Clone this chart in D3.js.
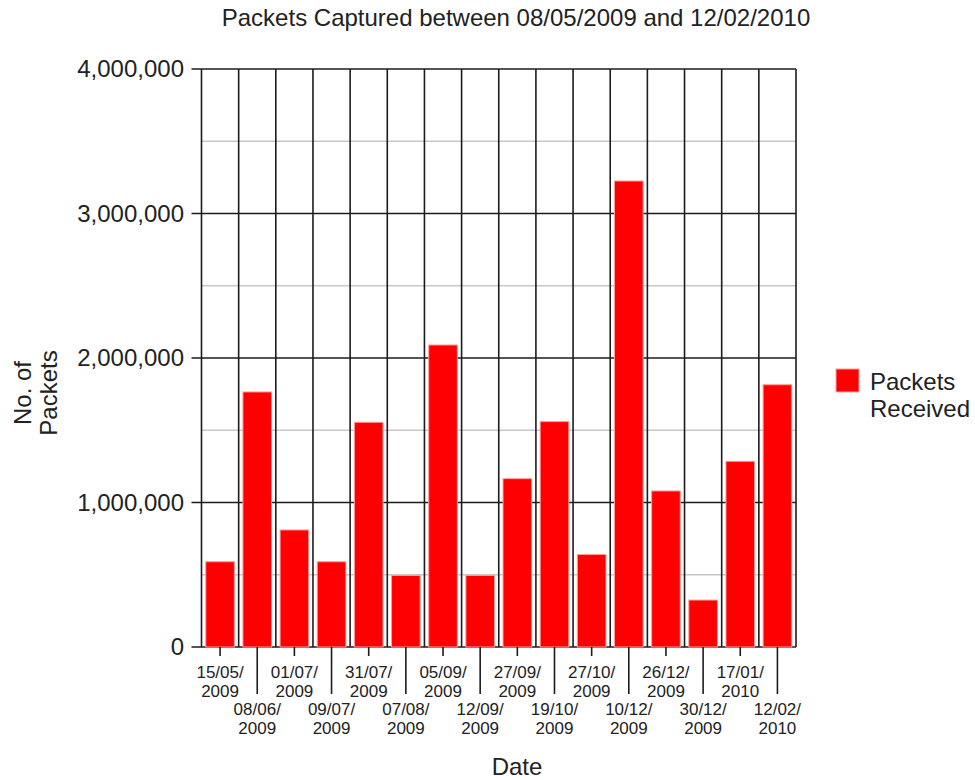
<!DOCTYPE html>
<html>
<head>
<meta charset="utf-8">
<script src="https://cdn.jsdelivr.net/npm/d3@7"></script>
<style>
  html, body { margin: 0; padding: 0; background: #fff; }
  svg text { font-family: "Liberation Sans", Arial, sans-serif; fill: #222; }
</style>
</head>
<body>
<svg id="chart" width="975" height="780"></svg>
<script>
// Capture dates (day/month/year) and packet totals for each capture
const dates = [
  "15/05/2009", "08/06/2009", "01/07/2009", "09/07/2009",
  "31/07/2009", "07/08/2009", "05/09/2009", "12/09/2009",
  "27/09/2009", "19/10/2009", "27/10/2009", "10/12/2009",
  "26/12/2009", "30/12/2009", "17/01/2010", "12/02/2010"
];
const packets = [
  590000, 1765000, 810000, 590000,
  1555000, 495000, 2090000, 495000,
  1165000, 1560000, 640000, 3225000,
  1080000, 325000, 1285000, 1815000
];
const majorTicks = [0, 1000000, 2000000, 3000000, 4000000];
const minorTicks = [500000, 1500000, 2500000, 3500000];
const seriesName = ["Packets", "Received"];
const titleText = "Packets Captured between 08/05/2009 and 12/02/2010";
const yTitle = ["No. of", "Packets"];
const xTitle = "Date";

const svg = d3.select("#chart");
const plotLeft = 201.5, plotRight = 796, plotTop = 69, plotBottom = 647;
const lineColor = "#1c1c1c";
const bigFont = 24;

const x = d3.scaleBand()
  .domain(dates)
  .range([plotLeft, plotRight])
  .paddingInner(0.23)
  .paddingOuter(0.115);

const y = d3.scaleLinear()
  .domain([0, 4000000])
  .range([plotBottom, plotTop]);

const bw = x.bandwidth();
const gap = (x.step() - bw) / 2;

// minor horizontal grid (grey)
svg.append("g").selectAll("line").data(minorTicks).join("line")
  .attr("x1", plotLeft).attr("x2", plotRight)
  .attr("y1", d => y(d)).attr("y2", d => y(d))
  .attr("stroke", "#c8c8c8").attr("stroke-width", 1.5);

// major horizontal grid with tick stubs left of the axis
svg.append("g").selectAll("line").data(majorTicks).join("line")
  .attr("x1", plotLeft - 10).attr("x2", plotRight)
  .attr("y1", d => y(d)).attr("y2", d => y(d))
  .attr("stroke", lineColor).attr("stroke-width", 1.6);

// vertical separators at category boundaries
svg.append("g").selectAll("line").data(dates).join("line")
  .attr("x1", d => x(d) + bw + gap).attr("x2", d => x(d) + bw + gap)
  .attr("y1", plotTop).attr("y2", plotBottom)
  .attr("stroke", lineColor).attr("stroke-width", 1.6);

// left axis line
svg.append("line")
  .attr("x1", plotLeft).attr("x2", plotLeft)
  .attr("y1", plotTop).attr("y2", plotBottom)
  .attr("stroke", lineColor).attr("stroke-width", 1.6);

// bars
svg.append("g").selectAll("rect").data(dates).join("rect")
  .attr("x", d => x(d))
  .attr("width", bw)
  .attr("y", (d, i) => y(packets[i]))
  .attr("height", (d, i) => plotBottom - y(packets[i]))
  .attr("fill", "#ff0000")
  .attr("stroke", "#ff9c9c")
  .attr("stroke-width", 1);

// y tick labels
const fmt = d3.format(",");
svg.append("g").selectAll("text").data(majorTicks).join("text")
  .attr("x", 184)
  .attr("y", d => y(d))
  .attr("dy", "0.35em")
  .attr("text-anchor", "end")
  .attr("font-size", bigFont)
  .text(d => fmt(d));

// x ticks: staggered two-row labels
const xt = svg.append("g");
dates.forEach((d, i) => {
  const cx = x(d) + bw / 2;
  const low = i % 2 === 1;
  xt.append("line")
    .attr("x1", cx).attr("x2", cx)
    .attr("y1", plotBottom).attr("y2", low ? 694 : 656)
    .attr("stroke", lineColor).attr("stroke-width", 1.6);
  const parts = d.split("/");
  const base = low ? 715 : 678;
  const t = xt.append("text")
    .attr("text-anchor", "middle")
    .attr("font-size", 17);
  t.append("tspan").attr("x", cx).attr("y", base).text(parts[0] + "/" + parts[1] + "/");
  t.append("tspan").attr("x", cx).attr("y", base + 18.5).text(parts[2]);
});

// title
svg.append("text")
  .attr("x", 516).attr("y", 26)
  .attr("text-anchor", "middle")
  .attr("font-size", bigFont)
  .text(titleText);

// x axis title
svg.append("text")
  .attr("x", 517).attr("y", 775)
  .attr("text-anchor", "middle")
  .attr("font-size", bigFont)
  .text(xTitle);

// y axis title (rotated, two lines)
const yt = svg.append("text")
  .attr("transform", "translate(0,393) rotate(-90)")
  .attr("text-anchor", "middle")
  .attr("font-size", bigFont);
yTitle.forEach((s, i) => {
  yt.append("tspan").attr("x", 0).attr("y", 31 + i * 26).text(s);
});

// legend
const lg = svg.append("g");
lg.append("rect")
  .attr("x", 836).attr("y", 369).attr("width", 23).attr("height", 23)
  .attr("fill", "#ff0000").attr("stroke", "#ff9c9c").attr("stroke-width", 1);
const lt = lg.append("text").attr("font-size", bigFont);
seriesName.forEach((s, i) => {
  lt.append("tspan").attr("x", 870).attr("y", 390 + i * 27).text(s);
});
</script>
</body>
</html>
